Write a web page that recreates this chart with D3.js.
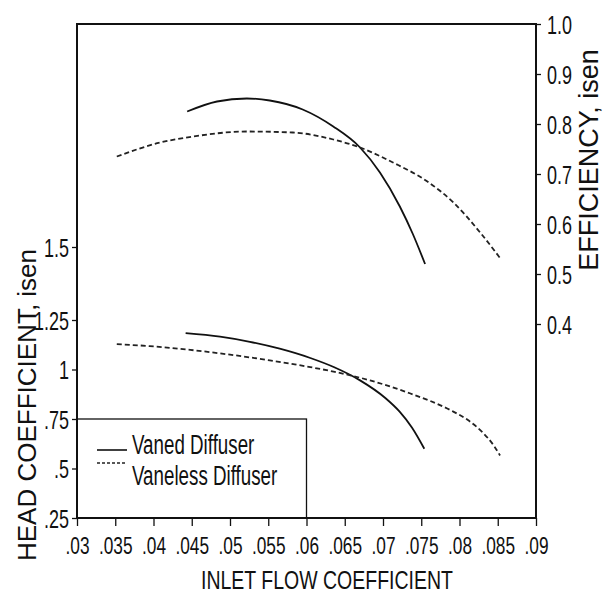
<!DOCTYPE html>
<html>
<head>
<meta charset="utf-8">
<script src="https://cdn.jsdelivr.net/npm/d3@7"></script>
<style>
  body { margin: 0; background: #fff; }
  text { font-family: "Liberation Sans", Arial, sans-serif; fill: #111; }
</style>
</head>
<body>
<script>
// tick values and labels
var xTicks = [0.03, 0.035, 0.04, 0.045, 0.05, 0.055, 0.06, 0.065, 0.07, 0.075, 0.08, 0.085, 0.09];
var xTickLabels = [".03", ".035", ".04", ".045", ".05", ".055", ".06", ".065", ".07", ".075", ".08", ".085", ".09"];
var headTicks = [0.25, 0.5, 0.75, 1, 1.25, 1.5];
var headTickLabels = [".25", ".5", ".75", "1", "1.25", "1.5"];
var effTicks = [0.4, 0.5, 0.6, 0.7, 0.8, 0.9, 1.0];
var effTickLabels = ["0.4", "0.5", "0.6", "0.7", "0.8", "0.9", "1.0"];

// efficiency curves (right axis)
var vanedFlowEff = [0.0444, 0.0483, 0.0522, 0.0552, 0.0595, 0.0635, 0.0670, 0.0696, 0.0722, 0.0739, 0.0755];
var vanedEff     = [0.825, 0.845, 0.851, 0.847, 0.829, 0.795, 0.753, 0.703, 0.635, 0.580, 0.520];
var vanelessFlowEff = [0.0352, 0.0409, 0.0452, 0.0522, 0.0582, 0.0635, 0.0670, 0.0713, 0.0758, 0.0792, 0.0827, 0.0853];
var vanelessEff     = [0.735, 0.763, 0.775, 0.785, 0.783, 0.769, 0.753, 0.723, 0.685, 0.643, 0.583, 0.532];

// head coefficient curves (left axis)
var vanedFlowHead = [0.0442, 0.0487, 0.0526, 0.0565, 0.0605, 0.0637, 0.0670, 0.0703, 0.0722, 0.0738, 0.0754];
var vanedHead     = [1.184, 1.166, 1.140, 1.105, 1.058, 1.010, 0.945, 0.856, 0.786, 0.706, 0.600];
var vanelessFlowHead = [0.0352, 0.0395, 0.0448, 0.0500, 0.0552, 0.0605, 0.0637, 0.0683, 0.0735, 0.0788, 0.0810, 0.0830, 0.0845, 0.0853];
var vanelessHead     = [1.128, 1.118, 1.099, 1.075, 1.046, 1.012, 0.988, 0.945, 0.880, 0.795, 0.747, 0.683, 0.615, 0.566];

var legendLabels = ["Vaned Diffuser", "Vaneless Diffuser"];

var svg = d3.select("body")
            .append("svg")
            .attr("width", 609)
            .attr("height", 594);

var margin = {top: 24, right: 73, bottom: 76, left: 77},
    width = +svg.attr("width") - margin.left - margin.right,
    height = +svg.attr("height") - margin.top - margin.bottom;

var g = svg.append("g")
  .attr("transform", "translate(" + margin.left + "," + margin.top + ")");

var sx = 0.72; // the scanned lettering is narrow

// scales
var x = d3.scaleLinear().domain([0.03, 0.09]).range([0, width]);
// left axis spacing is uneven in the original (1.5 sits higher)
var yHead = d3.scaleLinear().domain([0.25, 1.25, 1.5]).range([height, 296, 223]);
var yEff = d3.scaleLinear().domain([0.4, 1.0]).range([300, 0]);

// frame
g.append("rect")
  .attr("width", width)
  .attr("height", height)
  .attr("fill", "none")
  .attr("stroke", "#111")
  .attr("stroke-width", 2);

// bottom axis
var xAxis = g.append("g")
  .attr("transform", "translate(0," + height + ")")
  .call(d3.axisBottom(x).tickValues(xTicks).tickSize(8)
    .tickFormat(function(d, i) { return xTickLabels[i]; }));
xAxis.select(".domain").remove();
xAxis.selectAll("line").attr("stroke", "#111").attr("stroke-width", 1.3);
xAxis.selectAll("text")
  .attr("y", 36).attr("dy", null)
  .attr("transform", "scale(" + sx + ",1)")
  .style("font-size", "24px");

// left axis
var yAxisL = g.append("g")
  .call(d3.axisLeft(yHead).tickValues(headTicks).tickSize(5)
    .tickFormat(function(d, i) { return headTickLabels[i]; }));
yAxisL.select(".domain").remove();
yAxisL.selectAll("line").attr("stroke", "#111").attr("stroke-width", 1.3);
yAxisL.selectAll("text")
  .attr("x", -8 / sx).attr("dy", "0.36em")
  .attr("transform", "scale(" + sx + ",1)")
  .style("font-size", "25px");

// right axis
var yAxisR = g.append("g")
  .attr("transform", "translate(" + width + ",0)")
  .call(d3.axisRight(yEff).tickValues(effTicks).tickSize(5)
    .tickFormat(function(d, i) { return effTickLabels[i]; }));
yAxisR.select(".domain").remove();
yAxisR.selectAll("line").attr("stroke", "#111").attr("stroke-width", 1.3);
yAxisR.selectAll("text")
  .attr("x", 11 / sx).attr("dy", "0.36em")
  .attr("transform", "scale(" + sx + ",1)")
  .style("font-size", "25px");

// curves
function pts(xs, ys) {
  return xs.map(function(v, i) { return [v, ys[i]]; });
}

var effLine = d3.line()
  .x(function(d) { return x(d[0]); })
  .y(function(d) { return yEff(d[1]); })
  .curve(d3.curveMonotoneX);

var headLine = d3.line()
  .x(function(d) { return x(d[0]); })
  .y(function(d) { return yHead(d[1]); })
  .curve(d3.curveMonotoneX);

var solid = {stroke: "#111", dash: null};
var dashed = {stroke: "#222", dash: "5,3"};

function drawCurve(gen, data, st) {
  g.append("path")
    .datum(data)
    .attr("d", gen)
    .attr("fill", "none")
    .attr("stroke", st.stroke)
    .attr("stroke-width", 1.8)
    .attr("stroke-dasharray", st.dash);
}

drawCurve(effLine, pts(vanedFlowEff, vanedEff), solid);
drawCurve(effLine, pts(vanelessFlowEff, vanelessEff), dashed);
drawCurve(headLine, pts(vanedFlowHead, vanedHead), solid);
drawCurve(headLine, pts(vanelessFlowHead, vanelessHead), dashed);

// legend box, top edge on the .75 tick, right edge on .06
g.append("rect")
  .attr("x", 0)
  .attr("y", yHead(0.75))
  .attr("width", x(0.06))
  .attr("height", height - yHead(0.75))
  .attr("fill", "none")
  .attr("stroke", "#111")
  .attr("stroke-width", 1.3);

var legendStyles = [solid, {stroke: "#222", dash: "3,2"}];
var legend = g.append("g").attr("transform", "translate(20," + (yHead(0.75) + 31) + ")");
legendLabels.forEach(function(lbl, i) {
  var row = legend.append("g").attr("transform", "translate(0," + (i * 13) + ")");
  row.append("line")
    .attr("x1", 0).attr("x2", 30)
    .attr("stroke", legendStyles[i].stroke)
    .attr("stroke-width", 1.6)
    .attr("stroke-dasharray", legendStyles[i].dash);
  row.append("text")
    .attr("x", 35 / 0.67)
    .attr("y", 4 + i * 18)
    .attr("transform", "scale(0.67,1)")
    .style("font-size", "28px")
    .text(lbl);
});

// axis titles
svg.append("text")
  .attr("transform", "translate(327,589) scale(0.75,1)")
  .attr("text-anchor", "middle")
  .style("font-size", "26px")
  .text("INLET FLOW COEFFICIENT");

svg.append("text")
  .attr("transform", "translate(27,405) rotate(-90)")
  .attr("text-anchor", "middle")
  .attr("dy", "0.36em")
  .style("font-size", "26px")
  .text("HEAD COEFFICIENT, isen");

svg.append("text")
  .attr("transform", "translate(588,160) rotate(-90)")
  .attr("text-anchor", "middle")
  .attr("dy", "0.36em")
  .style("font-size", "27px")
  .text("EFFICIENCY, isen");
</script>
</body>
</html>
